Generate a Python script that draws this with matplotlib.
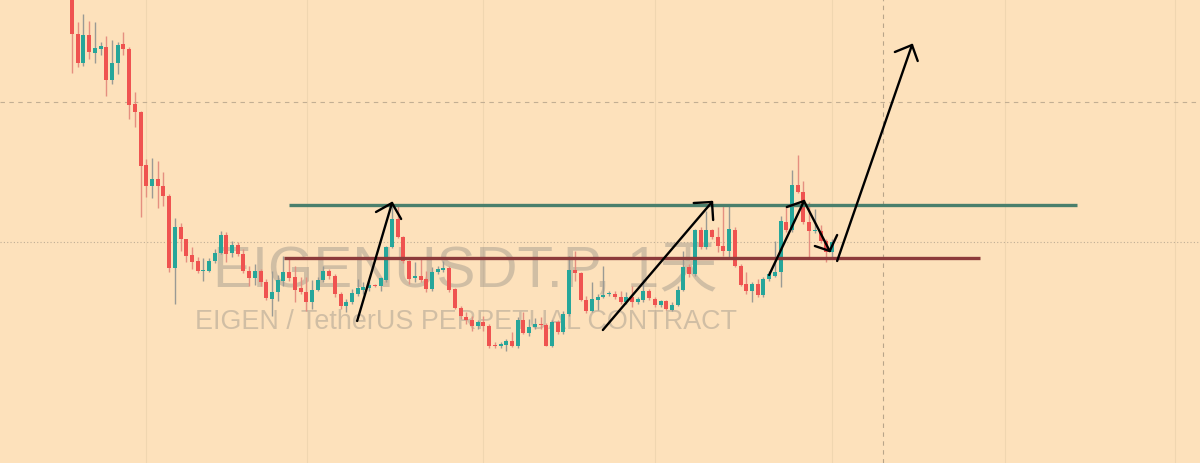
import matplotlib
matplotlib.use("Agg")
import matplotlib.pyplot as plt
import numpy as np

# daily candles, EIGENUSDT.P (prices)
opens = [4.84, 4.29, 4.00, 4.28, 4.10, 4.14, 4.16, 3.83, 4.00, 4.19,
         4.14, 3.59, 3.51, 2.98, 2.77, 2.84, 2.77, 2.67, 1.95, 2.36,
         2.24, 2.08, 2.02, 1.92, 1.92, 2.02, 2.10, 2.28, 2.10, 2.18,
         2.09, 1.92, 1.85, 1.92, 1.81, 1.64, 1.71, 1.82, 1.91, 1.86,
         1.75, 1.71, 1.61, 1.73, 1.83, 1.92, 1.87, 1.69, 1.57, 1.61,
         1.69, 1.73, 1.75, 1.78, 1.77, 1.83, 2.16, 2.44, 2.26, 2.02,
         1.85, 1.87, 1.84, 1.74, 1.91, 1.93, 1.95, 1.74, 1.55, 1.46,
         1.43, 1.37, 1.41, 1.37, 1.18, 1.17, 1.18, 1.22, 1.17, 1.43,
         1.30, 1.36, 1.39, 1.38, 1.17, 1.41, 1.31, 1.49, 1.93, 1.90,
         1.63, 1.52, 1.63, 1.66, 1.69, 1.69, 1.66, 1.61, 1.66, 1.61,
         1.63, 1.72, 1.64, 1.58, 1.62, 1.53, 1.58, 1.73, 1.96, 1.89,
         2.33, 2.16, 2.33, 2.26, 2.17, 2.12, 2.33, 1.97, 1.79, 1.72,
         1.79, 1.68, 1.84, 1.87, 1.91, 2.41, 2.33, 2.78, 2.71, 2.41,
         2.32, 2.32, 2.22, 2.11]
highs = [4.94, 4.41, 4.49, 4.42, 4.41, 4.21, 4.27, 4.23, 4.21, 4.31,
         4.16, 3.71, 3.52, 3.04, 3.05, 3.02, 2.91, 2.69, 2.45, 2.40,
         2.24, 2.16, 2.06, 2.05, 2.05, 2.14, 2.32, 2.31, 2.22, 2.21,
         2.14, 1.97, 1.99, 1.94, 1.84, 1.92, 1.88, 2.07, 2.05, 1.97,
         1.86, 1.86, 1.83, 1.86, 1.97, 1.94, 1.89, 1.71, 1.64, 1.74,
         1.84, 1.81, 1.82, 1.79, 1.86, 2.17, 2.59, 2.59, 2.27, 2.03,
         2.01, 2.05, 1.92, 1.96, 1.97, 2.02, 1.97, 1.75, 1.57, 1.51,
         1.47, 1.43, 1.47, 1.39, 1.21, 1.21, 1.24, 1.31, 1.46, 1.51,
         1.44, 1.45, 1.46, 1.40, 1.43, 1.43, 1.52, 2.07, 2.12, 1.91,
         1.67, 1.81, 1.69, 1.97, 1.72, 1.72, 1.72, 1.71, 1.77, 1.66,
         1.84, 1.74, 1.66, 1.63, 1.63, 1.61, 1.77, 2.12, 1.99, 2.34,
         2.36, 2.52, 2.34, 2.36, 2.59, 2.59, 2.36, 1.99, 1.91, 1.81,
         1.84, 1.86, 1.92, 2.22, 2.47, 2.59, 2.93, 3.08, 2.82, 2.61,
         2.54, 2.38, 2.24, 2.24]
lows = [3.90, 3.96, 3.97, 4.04, 4.00, 4.08, 3.67, 3.79, 3.89, 4.08,
        3.44, 3.36, 2.46, 2.66, 2.65, 2.55, 2.57, 1.91, 1.59, 2.12,
        2.01, 1.94, 1.90, 1.82, 1.91, 2.00, 2.09, 2.01, 2.06, 2.07,
        1.90, 1.77, 1.78, 1.77, 1.63, 1.47, 1.62, 1.77, 1.82, 1.61,
        1.69, 1.52, 1.54, 1.72, 1.81, 1.84, 1.66, 1.54, 1.51, 1.59,
        1.67, 1.69, 1.72, 1.76, 1.72, 1.81, 2.15, 2.25, 2.00, 1.79,
        1.81, 1.81, 1.71, 1.72, 1.89, 1.91, 1.71, 1.54, 1.44, 1.39,
        1.32, 1.34, 1.32, 1.15, 1.15, 1.15, 1.12, 1.16, 1.15, 1.29,
        1.27, 1.34, 1.34, 1.17, 1.16, 1.29, 1.29, 1.47, 1.82, 1.62,
        1.50, 1.51, 1.53, 1.65, 1.67, 1.64, 1.59, 1.59, 1.56, 1.59,
        1.61, 1.63, 1.56, 1.56, 1.53, 1.52, 1.57, 1.72, 1.86, 1.87,
        2.14, 2.14, 2.24, 2.11, 2.07, 2.06, 1.96, 1.77, 1.69, 1.61,
        1.66, 1.66, 1.82, 1.86, 1.76, 2.31, 2.31, 2.70, 2.39, 2.06,
        2.30, 2.20, 2.01, 2.06]
closes = [4.29, 4.00, 4.28, 4.11, 4.15, 4.17, 3.83, 4.00, 4.18, 4.14,
          3.58, 3.51, 2.97, 2.77, 2.84, 2.77, 2.67, 1.95, 2.36, 2.24,
          2.07, 2.01, 1.92, 1.93, 2.02, 2.10, 2.28, 2.09, 2.18, 2.09,
          1.92, 1.85, 1.92, 1.81, 1.65, 1.71, 1.83, 1.91, 1.85, 1.73,
          1.71, 1.61, 1.73, 1.83, 1.92, 1.87, 1.69, 1.57, 1.61, 1.70,
          1.75, 1.76, 1.78, 1.77, 1.85, 2.16, 2.44, 2.26, 2.02, 1.84,
          1.87, 1.83, 1.74, 1.91, 1.94, 1.95, 1.73, 1.55, 1.47, 1.43,
          1.37, 1.41, 1.37, 1.17, 1.17, 1.19, 1.22, 1.17, 1.43, 1.30,
          1.36, 1.39, 1.38, 1.17, 1.41, 1.31, 1.49, 1.93, 1.90, 1.63,
          1.52, 1.64, 1.66, 1.68, 1.70, 1.66, 1.61, 1.66, 1.61, 1.64,
          1.72, 1.65, 1.58, 1.62, 1.54, 1.58, 1.73, 1.96, 1.89, 2.33,
          2.16, 2.33, 2.26, 2.17, 2.12, 2.34, 1.97, 1.78, 1.72, 1.79,
          1.68, 1.84, 1.89, 1.91, 2.42, 2.33, 2.78, 2.71, 2.41, 2.32,
          2.33, 2.22, 2.11, 2.21]

# drawn levels: (price, first bar, last bar)
resistance = (2.58, 38.0, 175.9)
support = (2.05, 37.1, 158.9)

# hand drawn arrows: tail, tip, wing1, wing2 in (bar, price)
arrows = [
    [(49.9, 1.42), (56.0, 2.60), (53.2, 2.51), (57.6, 2.44)],
    [(92.9, 1.33), (112.0, 2.61), (108.8, 2.60), (112.2, 2.43)],
    [(122.0, 1.88), (128.1, 2.62), (125.1, 2.56), None],
    [(128.1, 2.62), (132.6, 2.12), (130.0, 2.17), (133.9, 2.28)],
    [(133.9, 2.02), (147.0, 4.18), (144.0, 4.11), (148.0, 4.02)],
]

month_lines = [12.9, 41.1, 71.9, 102.0, 133.0, 163.3, 193.0]
cross_x, cross_y = 141.9, 3.61
last_price = 2.21

bg = "#fde1bb"
up_col, down_col = "#26a69a", "#ef5350"

fig = plt.figure(figsize=(12, 4.64), dpi=100, facecolor=bg)
ax = fig.add_axes([0, 0, 1, 1])
ax.set_facecolor(bg)
ax.set_xlim(-12.6, 197.4)
ax.set_ylim(0, 4.64)
ax.axis("off")

for m in month_lines:
    ax.axvline(m, color="#f0d6b0", lw=0.8, zorder=0)
ax.axvline(cross_x, color="#b8a58a", lw=0.8, ls=(0, (4, 4)), zorder=1)
ax.axhline(cross_y, color="#c2ae93", lw=0.8, ls=(0, (4, 4)), zorder=1)
ax.axhline(last_price, color="#bfae96", lw=0.8, ls=(0, (1, 2)), zorder=1)

# watermark
ax.text(68.85, 1.77, "EIGENUSDT.P, 1天", fontsize=42, color="#777777", alpha=0.33,
        ha="center", va="baseline", family=["Liberation Sans", "Noto Sans CJK SC"], zorder=1)
ax.text(68.9, 1.35, "EIGEN / TetherUS PERPETUAL CONTRACT", fontsize=19.4, color="#777777",
        alpha=0.33, ha="center", va="baseline", family="Liberation Sans", zorder=1)

x = np.arange(len(opens))
o, h, l, c = map(np.array, (opens, highs, lows, closes))
up = c >= o
body_col = np.where(up, up_col, down_col)
wick_col = np.where(up, "#9a9a94", "#e58f80")
ax.vlines(x, l, h, colors=wick_col, lw=1, zorder=2)
ax.bar(x, np.maximum(np.abs(c - o), 0.015), bottom=np.minimum(o, c), width=0.7,
       color=body_col, zorder=3, linewidth=0)

ax.plot([resistance[1], resistance[2]], [resistance[0]] * 2, color="#4a7f6c", lw=2.4,
        solid_capstyle="butt", zorder=4)
ax.plot([support[1], support[2]], [support[0]] * 2, color="#8d3b3b", lw=2.4,
        solid_capstyle="butt", zorder=4)

for tail, tip, w1, w2 in arrows:
    ax.plot([tail[0], tip[0]], [tail[1], tip[1]], color="black", lw=1.7, zorder=5,
            solid_capstyle="round")
    for w in (w1, w2):
        if w is not None:
            ax.plot([w[0], tip[0]], [w[1], tip[1]], color="black", lw=1.7, zorder=5,
                    solid_capstyle="round")

fig.savefig("out.png", dpi=100, facecolor=bg)
